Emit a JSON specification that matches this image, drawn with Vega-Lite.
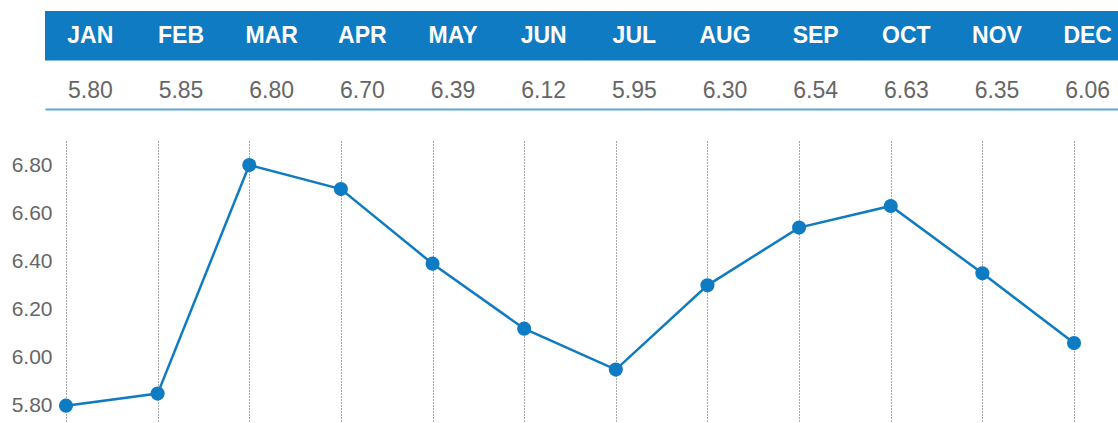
{
  "$schema": "https://vega.github.io/schema/vega-lite/v6.json",
  "padding": {"left": 11, "top": 11, "right": 0, "bottom": 0},
  "background": "white",
  "config": {
    "font": "Liberation Sans",
    "view": {"stroke": null}
  },
  "data": {
    "values": [
      {"month": "JAN", "value": 5.80},
      {"month": "FEB", "value": 5.85},
      {"month": "MAR", "value": 6.80},
      {"month": "APR", "value": 6.70},
      {"month": "MAY", "value": 6.39},
      {"month": "JUN", "value": 6.12},
      {"month": "JUL", "value": 5.95},
      {"month": "AUG", "value": 6.30},
      {"month": "SEP", "value": 6.54},
      {"month": "OCT", "value": 6.63},
      {"month": "NOV", "value": 6.35},
      {"month": "DEC", "value": 6.06}
    ]
  },
  "spacing": 32,
  "vconcat": [
    {
      "width": 1073,
      "height": 98,
      "encoding": {
        "x": {
          "field": "month",
          "type": "nominal",
          "sort": null,
          "scale": {"type": "band", "range": [0, 1088], "paddingInner": 0, "paddingOuter": 0},
          "axis": {"orient": "bottom", "labels": false, "ticks": false, "grid": false, "domain": true, "domainColor": "#5aa5db", "domainWidth": 2, "title": null}
        }
      },
      "layer": [
        {
          "mark": {"type": "rect", "color": "#0f7bc2", "stroke": "#0f7bc2", "strokeWidth": 1, "clip": true},
          "encoding": {
            "y": {"datum": "header", "type": "nominal", "scale": {"domain": ["header", "value"], "paddingInner": 0, "paddingOuter": 0}, "axis": null}
          }
        },
        {
          "mark": {"type": "text", "color": "white", "fontWeight": "bold", "fontSize": 23},
          "encoding": {
            "y": {"datum": "header", "type": "nominal"},
            "text": {"field": "month"}
          }
        },
        {
          "mark": {"type": "text", "color": "#666666", "fontSize": 23, "dy": 6},
          "encoding": {
            "y": {"datum": "value", "type": "nominal"},
            "text": {"field": "value", "type": "quantitative", "format": ".2f"}
          }
        }
      ]
    },
    {
      "width": 1050,
      "height": 281,
      "encoding": {
        "x": {
          "field": "month",
          "type": "nominal",
          "sort": null,
          "scale": {"type": "point", "padding": 0.229},
          "axis": {"orient": "bottom", "labels": false, "ticks": false, "domain": false, "grid": true, "gridColor": "#555555", "gridDash": [1, 2], "gridWidth": 1, "title": null}
        },
        "y": {
          "field": "value",
          "type": "quantitative",
          "scale": {"domain": [5.732, 6.9], "nice": false, "zero": false},
          "axis": {"values": [5.8, 6.0, 6.2, 6.4, 6.6, 6.8], "format": ".2f", "grid": false, "domain": false, "ticks": false, "tickSize": 0, "labelPadding": 0, "offset": -7, "labelColor": "#666666", "labelFontSize": 21, "title": null}
        }
      },
      "layer": [
        {"mark": {"type": "line", "color": "#0f7bc2", "strokeWidth": 2.5}},
        {"mark": {"type": "point", "filled": true, "color": "#0f7bc2", "size": 200, "opacity": 1}}
      ]
    }
  ]
}
